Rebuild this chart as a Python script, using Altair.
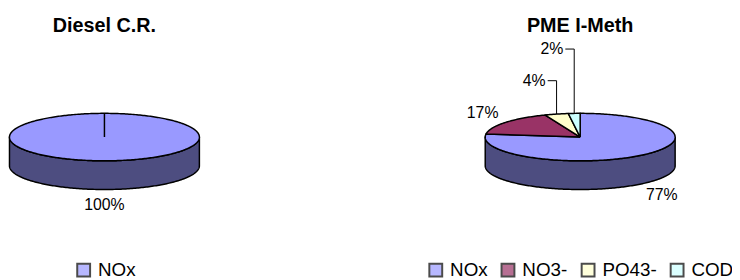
import numpy as np
import pandas as pd
import altair as alt

# ---------------- data ----------------
left_title = "Diesel C.R."
left_categories = ["NOx"]
left_values = [100]

right_title = "PME I-Meth"
right_categories = ["NOx", "NO3-", "PO43-", "COD"]
right_values = [77, 17, 4, 2]

# ---------------- style / layout ----------------
palette = {"NOx": "#9999FF", "NO3-": "#993366", "PO43-": "#FFFFCC", "COD": "#CCFFFF"}
side_palette = {"NOx": "#4D4D80", "NO3-": "#4D1A33", "PO43-": "#808066", "COD": "#668080"}
FONT = "Liberation Sans"
CW, CH = 732, 272            # whole chart (px)
RX, RY, DEPTH = 96.0, 24.0, 29.0   # ellipse radii and pie depth (px)
PIE_CX = [97.5, 578.5]       # pie centres (px from left)
PIE_CY = 129.0               # pie centre (px from top)
TITLE_Y = 17.0
LABEL_FX, LABEL_FY = 1.3, 1.65
LEADER_RISE = {"PO43-": 57.0, "COD": 89.0}   # px above the centre for moved labels
LEADER_RUN = 9.0
LEGEND_X = [67, 423]
LEGEND_Y = 254
LEGEND_FS = 19

D = DEPTH / RY


def ux(px):
    return px / RX


def uy(py):
    return (CH - py) / RY


def pie_tables(cats, vals, cx_px):
    cx, cy = ux(cx_px), uy(PIE_CY)
    total = float(sum(vals))
    top, side, labs, llabs, leads = [], [], [], [], []
    a = 0.0
    for c, v in zip(cats, vals):
        a0, a1 = a, a + 2 * np.pi * v / total
        a = a1
        ts = np.linspace(a0, a1, max(3, int(np.degrees(a1 - a0)) + 1))
        ring = [(0.0, 0.0)] + [(np.sin(t), np.cos(t)) for t in ts] + [(0.0, 0.0)]
        for i, (sx, sy) in enumerate(ring):
            top.append({"cat": c, "i": i, "x": cx + sx, "y": cy + sy, "col": palette[c]})
        lo, hi = max(a0, np.pi / 2), min(a1, 1.5 * np.pi)
        if hi > lo:
            ts = np.linspace(lo, hi, max(3, int(np.degrees(hi - lo)) + 1))
            ring = [(np.sin(t), np.cos(t)) for t in ts] + [(np.sin(t), np.cos(t) - D) for t in ts[::-1]]
            ring.append(ring[0])
            for i, (sx, sy) in enumerate(ring):
                side.append({"cat": c, "i": i, "x": cx + sx, "y": cy + sy, "col": side_palette[c]})
        mid = (a0 + a1) / 2
        pct = f"{round(100 * v / total)}%"
        if c in LEADER_RISE:
            ex, ey = cx + np.sin(mid), cy + np.cos(mid)
            ly = cy + LEADER_RISE[c] / RY
            lx = ex - LEADER_RUN / RX
            leads += [{"cat": c, "i": 0, "x": lx, "y": ly},
                      {"cat": c, "i": 1, "x": ex, "y": ly},
                      {"cat": c, "i": 2, "x": ex, "y": ey}]
            llabs.append({"x": lx, "y": ly, "t": pct})
        else:
            lx = cx + LABEL_FX * np.sin(mid)
            ly = cy + LABEL_FY * np.cos(mid) - (D if np.cos(mid) < 0 else 0.0)
            labs.append({"x": lx, "y": ly, "t": pct})
    return (pd.DataFrame(top), pd.DataFrame(side), pd.DataFrame(labs),
            pd.DataFrame(llabs), pd.DataFrame(leads))


XS = alt.Scale(domain=[0, CW / RX], nice=False, zero=False)
YS = alt.Scale(domain=[0, CH / RY], nice=False, zero=False)
X = alt.X("x:Q", scale=XS, axis=None)
Y = alt.Y("y:Q", scale=YS, axis=None)


def panel(title, cats, vals, cx_px, legend_x):
    top, side, labs, llabs, leads = pie_tables(cats, vals, cx_px)
    layers = []
    if len(side):
        layers.append(alt.Chart(side).mark_line(filled=True, stroke="black", strokeWidth=1.5,
                                                strokeJoin="round").encode(
            X, Y, order="i:Q", detail="cat:N", fill=alt.Fill("col:N", scale=None)))
    layers.append(alt.Chart(top).mark_line(filled=True, stroke="black", strokeWidth=1.5,
                                           strokeJoin="round").encode(
        X, Y, order="i:Q", detail="cat:N", fill=alt.Fill("col:N", scale=None)))
    if len(leads):
        layers.append(alt.Chart(leads).mark_line(stroke="black", strokeWidth=1).encode(
            X, Y, order="i:Q", detail="cat:N"))
        layers.append(alt.Chart(llabs).mark_text(font=FONT, fontSize=16, align="right", dx=-2,
                                                 baseline="middle", color="black").encode(X, Y, text="t:N"))
    if len(labs):
        layers.append(alt.Chart(labs).mark_text(font=FONT, fontSize=16, align="center",
                                                baseline="middle", color="black").encode(X, Y, text="t:N"))
    tdf = pd.DataFrame([{"x": ux(cx_px), "y": uy(TITLE_Y), "t": title}])
    layers.append(alt.Chart(tdf).mark_text(font=FONT, fontSize=20, fontWeight="bold", align="center",
                                           baseline="middle", color="black").encode(X, Y, text="t:N"))
    layers.append(alt.Chart(alt.Data(values=[])).mark_square(size=169, stroke="black", strokeWidth=2,
                                                             filled=True).encode(
        color=alt.Color("cat:N", scale=alt.Scale(domain=cats, range=[palette[c] for c in cats]),
                        legend=alt.Legend(title=None, orient="none", legendX=legend_x, legendY=LEGEND_Y,
                                          direction="horizontal", symbolType="square", symbolSize=169,
                                          symbolStrokeColor="black", symbolStrokeWidth=2,
                                          labelFont=FONT, labelFontSize=LEGEND_FS, labelColor="black",
                                          labelOffset=5, columnPadding=10, padding=0))))
    return layers


layers = (panel(left_title, left_categories, left_values, PIE_CX[0], LEGEND_X[0])
          + panel(right_title, right_categories, right_values, PIE_CX[1], LEGEND_X[1]))

chart = alt.layer(*layers).resolve_scale(color="independent").properties(
    width=CW, height=CH, padding=0, autosize=alt.AutoSizeParams(type="none"),
    background="white").configure_view(strokeWidth=0)

chart.save("out.html", embed_options={"renderer": "svg", "actions": False})
